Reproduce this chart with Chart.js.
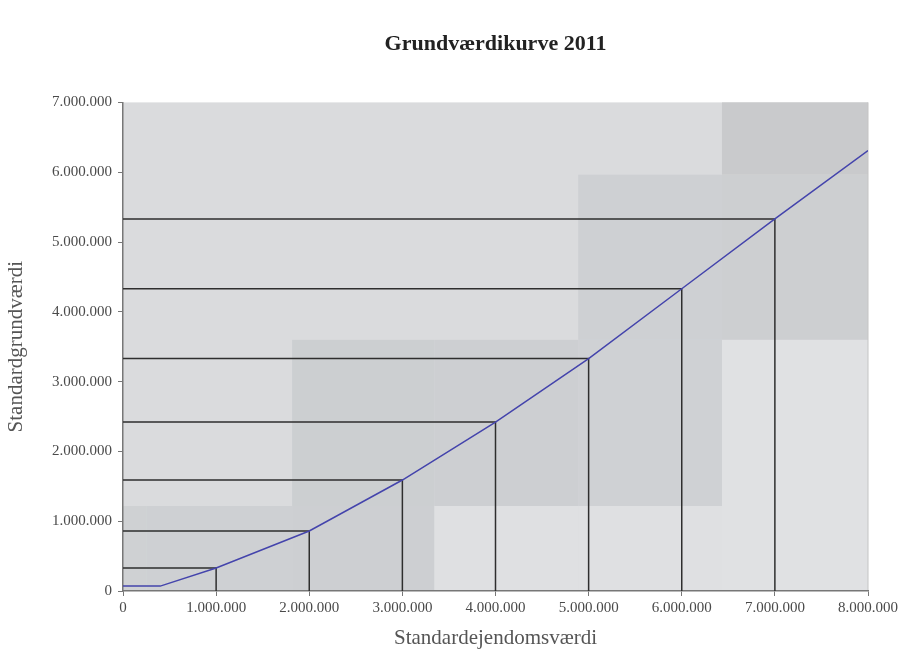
<!DOCTYPE html>
<html>
<head>
<meta charset="utf-8">
<script src="https://cdn.jsdelivr.net/npm/chart.js@4"></script>
<style>
  html, body { margin: 0; padding: 0; background: #fff; }
  canvas { display: block; }
</style>
</head>
<body>
<canvas id="kurve" width="906" height="655"></canvas>
<script>
// Standardejendomsværdi (x) and Standardgrundværdi (y)
const ejendomsvaerdi = [0, 400000, 1000000, 2000000, 3000000, 4000000, 5000000, 6000000, 7000000, 8000000];
const grundvaerdi = [70000, 70000, 330000, 860000, 1590000, 2420000, 3330000, 4330000, 5330000, 6310000];
// the points that get black guide lines down to the x-axis and across to the y-axis
const hjaelpX = [1000000, 2000000, 3000000, 4000000, 5000000, 6000000, 7000000];
const hjaelpY = [330000, 860000, 1590000, 2420000, 3330000, 4330000, 5330000];

function fmt(v) {
    return v.toLocaleString('de-DE');
}

const datasets = [{
    label: 'Grundværdikurve',
    data: ejendomsvaerdi.map((x, i) => ({ x: x, y: grundvaerdi[i] })),
    borderColor: '#4444ac',
    borderWidth: 1.5,
    pointRadius: 0,
    tension: 0,
    order: 0
}];

hjaelpX.forEach(function(x, i) {
    datasets.push({
        label: 'hjælp ' + i,
        data: [{ x: 0, y: hjaelpY[i] }, { x: x, y: hjaelpY[i] }, { x: x, y: 0 }],
        borderColor: '#2e2e2e',
        borderWidth: 1.5,
        pointRadius: 0,
        tension: 0,
        order: 1
    });
});

// the scanned plot area is patchy grey; rough blocks as fractions of the plot area
const kol = [0, 0.032, 0.227, 0.418, 0.611, 0.804, 1];
const rk = [0, 0.148, 0.486, 0.826, 1];
const felter = [
    // [col, row, colour]
    [5, 0, '#c9cacc'], [5, 1, '#cdcfd1'],
    [4, 1, '#ced0d3'], [4, 2, '#cfd1d4'],
    [2, 2, '#cccfd1'], [3, 2, '#cdcfd2'],
    [0, 3, '#cfd1d3'], [1, 3, '#ced0d3'], [2, 3, '#cdcfd2'],
    [3, 3, '#dfe0e2'], [4, 3, '#dfe0e2'],
    [5, 2, '#e0e1e3'], [5, 3, '#e0e1e3']
];

const plotBg = {
    id: 'plotBg',
    beforeDraw(chart) {
        const a = chart.chartArea;
        const w = a.right - a.left, h = a.bottom - a.top;
        const ctx = chart.ctx;
        ctx.save();
        ctx.fillStyle = '#dadbdd';
        ctx.fillRect(a.left, a.top, w, h);
        felter.forEach(function(f) {
            const x0 = a.left + kol[f[0]] * w, x1 = a.left + kol[f[0] + 1] * w;
            const y0 = a.top + rk[f[1]] * h, y1 = a.top + rk[f[1] + 1] * h;
            ctx.fillStyle = f[2];
            ctx.fillRect(x0, y0, x1 - x0, y1 - y0);
        });
        ctx.strokeStyle = '#c4c4c4';
        ctx.lineWidth = 1;
        ctx.beginPath();
        ctx.moveTo(a.right, a.top);
        ctx.lineTo(a.right, a.bottom);
        ctx.stroke();
        ctx.restore();
    }
};

new Chart(document.getElementById('kurve').getContext('2d'), {
    type: 'line',
    data: { datasets: datasets },
    plugins: [plotBg],
    options: {
        responsive: false,
        animation: false,
        layout: { padding: { top: 0, right: 38, bottom: 0, left: 0 } },
        plugins: {
            legend: { display: false },
            tooltip: { enabled: false },
            title: {
                display: true,
                text: 'Grundværdikurve 2011',
                fullSize: false,
                color: '#222',
                font: { family: 'Liberation Serif', size: 22, weight: 'bold' },
                padding: { top: 31, bottom: 45 }
            }
        },
        scales: {
            x: {
                type: 'linear',
                min: 0,
                max: 8000000,
                afterFit(scale) { scale.height = 64; },
                ticks: {
                    stepSize: 1000000,
                    callback: fmt,
                    color: '#4a4a4a',
                    maxRotation: 0,
                    padding: 3,
                    font: { family: 'Liberation Serif', size: 15 }
                },
                grid: { drawOnChartArea: false, drawTicks: true, tickLength: 5, color: '#777' },
                border: { display: true, color: '#777', width: 1.5 },
                title: {
                    display: true,
                    text: 'Standardejendomsværdi',
                    color: '#555',
                    font: { family: 'Liberation Serif', size: 21 },
                    padding: { top: 2 }
                }
            },
            y: {
                type: 'linear',
                min: 0,
                max: 7000000,
                afterFit(scale) { scale.width = 123; },
                ticks: {
                    stepSize: 1000000,
                    callback: fmt,
                    color: '#4a4a4a',
                    padding: 6,
                    font: { family: 'Liberation Serif', size: 15 }
                },
                grid: { drawOnChartArea: false, drawTicks: true, tickLength: 5, color: '#777' },
                border: { display: true, color: '#777', width: 1.5 },
                title: {
                    display: true,
                    text: 'Standardgrundværdi',
                    color: '#555',
                    font: { family: 'Liberation Serif', size: 21 },
                    padding: { bottom: 0 }
                }
            }
        }
    }
});
</script>
</body>
</html>
